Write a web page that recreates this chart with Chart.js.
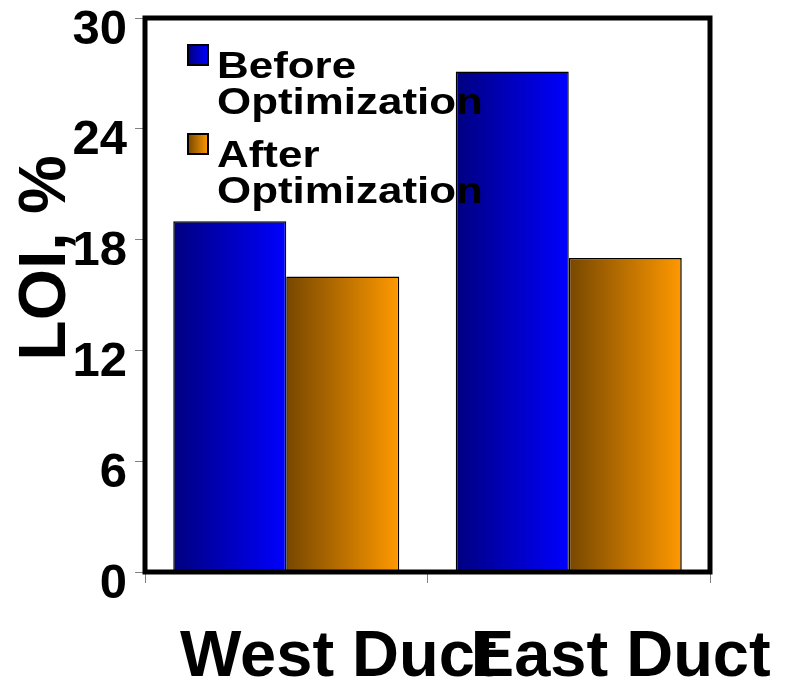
<!DOCTYPE html>
<html>
<head>
<meta charset="utf-8">
<script src="https://cdn.jsdelivr.net/npm/chart.js@4/dist/chart.umd.min.js"></script>
<style>
  html, body { margin: 0; padding: 0; background: #fff; }
  #wrap { width: 787px; height: 682px; }
</style>
</head>
<body>
<div id="wrap"><canvas id="loi-chart" width="787" height="682"></canvas></div>
<script>
const categories = ["West Duct", "East Duct"];
const seriesLabels = ["Before Optimization", "After Optimization"];
const beforeValues = [19.0, 27.1];
const afterValues = [16.0, 17.0];
const yTicks = [0, 6, 12, 18, 24, 30];
const axisTitle = "LOI, %";

const beforeColors = ["#000080", "#0000ff"];
const afterColors = ["#774700", "#ff9900"];
const fontFamily = '"Liberation Sans", Arial, Helvetica, sans-serif';

// horizontal gradient across one bar, worked out from the x scale
function barGradient(context, colors) {
  const chart = context.chart;
  const xScale = chart.scales.x;
  if (!xScale || context.dataIndex === undefined) return colors[1];
  const catWidth = (xScale.right - xScale.left) / categories.length;
  const barWidth = catWidth * 0.8 / 2;
  const left = xScale.getPixelForValue(context.dataIndex) - catWidth * 0.4 + context.datasetIndex * barWidth;
  if (!isFinite(left) || !isFinite(barWidth) || barWidth <= 0) return colors[1];
  const g = chart.ctx.createLinearGradient(left, 0, left + barWidth, 0);
  g.addColorStop(0, colors[0]);
  g.addColorStop(1, colors[1]);
  return g;
}

const decorations = {
  id: "decorations",
  afterDraw(chart) {
    const ctx = chart.ctx;
    const area = chart.chartArea;

    // thick frame round the plot
    ctx.save();
    ctx.strokeStyle = "#000";
    ctx.lineWidth = 5;
    ctx.strokeRect(area.left, area.top, area.right - area.left, area.bottom - area.top);
    ctx.restore();

    // rotated axis title
    ctx.save();
    ctx.translate(65, 258);
    ctx.rotate(-Math.PI / 2);
    ctx.fillStyle = "#000";
    ctx.font = "bold 66px " + fontFamily;
    ctx.textAlign = "center";
    ctx.textBaseline = "alphabetic";
    ctx.fillText(axisTitle, 0, 0);
    ctx.restore();

    // legend inside the plot, labels wrapped on two lines
    const palette = [beforeColors, afterColors];
    chart.data.datasets.forEach(function(ds, i) {
      const boxX = 188, boxY = 45 + i * 89, box = 20;
      const g = ctx.createLinearGradient(boxX, 0, boxX + box, 0);
      g.addColorStop(0, palette[i][0]);
      g.addColorStop(1, palette[i][1]);
      ctx.save();
      ctx.fillStyle = g;
      ctx.fillRect(boxX, boxY, box, box);
      ctx.strokeStyle = "#000";
      ctx.lineWidth = 2;
      ctx.strokeRect(boxX, boxY, box, box);
      ctx.restore();

      const lines = ds.label.split(" ");
      lines.forEach(function(line, j) {
        ctx.save();
        ctx.translate(217, boxY + 33 + j * 36);
        ctx.scale(1.22, 1);
        ctx.fillStyle = "#000";
        ctx.font = "bold 36px " + fontFamily;
        ctx.textAlign = "left";
        ctx.textBaseline = "alphabetic";
        ctx.fillText(line, 0, 0);
        ctx.restore();
      });
    });
  }
};

new Chart(document.getElementById("loi-chart").getContext("2d"), {
  type: "bar",
  plugins: [decorations],
  data: {
    labels: categories,
    datasets: [
      {
        label: seriesLabels[0],
        data: beforeValues,
        backgroundColor: function(c) { return barGradient(c, beforeColors); },
        borderColor: "#000",
        borderWidth: 1.5,
        categoryPercentage: 0.8,
        barPercentage: 1.0
      },
      {
        label: seriesLabels[1],
        data: afterValues,
        backgroundColor: function(c) { return barGradient(c, afterColors); },
        borderColor: "#000",
        borderWidth: 1.5,
        categoryPercentage: 0.8,
        barPercentage: 1.0
      }
    ]
  },
  options: {
    responsive: false,
    animation: false,
    layout: { padding: { top: 18, right: 77, left: 0, bottom: 0 } },
    plugins: {
      legend: { display: false },
      tooltip: { enabled: false }
    },
    scales: {
      x: {
        afterFit: function(s) { s.height = 110; s.paddingLeft = 0; s.paddingRight = 0; },
        grid: { drawOnChartArea: false, offset: true, tickLength: 11, color: "#808080", lineWidth: 1 },
        border: { display: false },
        ticks: {
          color: "#000",
          font: { family: fontFamily, size: 65, weight: "bold" },
          padding: 36,
          labelOffset: 52,
          maxRotation: 0,
          autoSkip: false
        }
      },
      y: {
        min: 0,
        max: 30,
        afterBuildTicks: function(s) { s.ticks = yTicks.map(function(v) { return { value: v }; }); },
        afterFit: function(s) { s.width = 145; s.paddingTop = 0; s.paddingBottom = 0; },
        grid: { drawOnChartArea: false, tickLength: 10, color: "#808080", lineWidth: 1 },
        border: { display: false },
        ticks: {
          color: "#000",
          font: { family: fontFamily, size: 49, weight: "bold" },
          padding: 8,
          labelOffset: 12
        }
      }
    }
  }
});
</script>
</body>
</html>
